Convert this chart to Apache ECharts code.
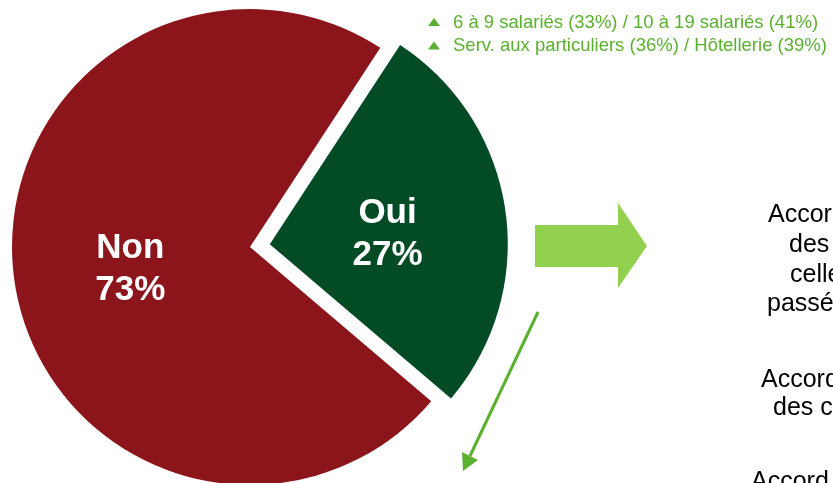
<!DOCTYPE html>
<html>
<head>
<meta charset="utf-8">
<script src="https://cdn.jsdelivr.net/npm/echarts@6/dist/echarts.min.js"></script>
<style>
  html, body { margin: 0; padding: 0; background: #fff; }
  #chart { width: 833px; height: 483px; }
</style>
</head>
<body>
<div id="chart"></div>
<script>
// pie data (Oui first so it starts at the upper right edge)
const categories = ["Oui", "Non"];
const values = [27, 73];
const sliceColors = ["#034b24", "#8c141b"];

// breakdown notes next to the "Oui" slice
const breakdownLines = [
    "6 à 9 salariés (33%) / 10 à 19 salariés (41%)",
    "Serv. aux particuliers (36%) / Hôtellerie (39%)"
];

// side text, partly outside the frame
const sideLines = [
    "Accord signé avec",
    "des délégués ou",
    "celle des salariés",
    "passé par référendum",
    "Accord signé avec",
    "des comités sociaux",
    "Accord unilatéral"
];

const font = "'Liberation Sans', Arial, sans-serif";
const noteGreen = "#5bb030";

const chart = echarts.init(document.getElementById("chart"));

// left x and baseline of each side line
const sidePos = [[768, 224], [789, 254], [790, 284], [767, 313], [761, 389], [773, 417], [751, 491]];

const graphics = [];

breakdownLines.forEach((line, i) => {
    const cy = 22 + i * 23.4;
    graphics.push({
        type: "polygon",
        shape: { points: [[428, cy + 4], [434, cy - 4], [440, cy + 4]] },
        style: { fill: noteGreen }
    });
    graphics.push({
        type: "text",
        x: 453, y: cy + 1,
        style: { text: line, fill: noteGreen, font: "18.5px " + font, textVerticalAlign: "middle" }
    });
});

sideLines.forEach((line, i) => {
    graphics.push({
        type: "text",
        x: sidePos[i][0], y: sidePos[i][1] - 8.5,
        style: { text: line, fill: "#000", font: "25px " + font, textVerticalAlign: "middle" }
    });
});

// block arrow
graphics.push({
    type: "polygon",
    shape: { points: [[535, 225], [618, 225], [618, 203], [647, 246], [618, 288], [618, 267], [535, 267]] },
    style: { fill: "#92d050" }
});

// thin arrow
graphics.push({
    type: "line",
    shape: { x1: 538, y1: 312, x2: 470, y2: 456 },
    style: { stroke: noteGreen, lineWidth: 3 }
});
graphics.push({
    type: "polygon",
    shape: { points: [[462, 452], [478, 460], [463, 471]] },
    style: { fill: noteGreen }
});

const labelShift = { Oui: [-3, 8], Non: [1, 5] };

chart.setOption({
    animation: false,
    graphic: graphics,
    series: [{
        type: "pie",
        center: [250, 247],
        radius: 238,
        startAngle: 56.8,
        clockwise: true,
        selectedMode: "single",
        selectedOffset: 20,
        emphasis: { disabled: true },
        label: {
            show: true,
            position: "inside",
            formatter: "{b}\n{c}%",
            color: "#fff",
            fontFamily: font,
            fontWeight: "bold",
            fontSize: 35,
            lineHeight: 42
        },
        labelLine: { show: false },
        data: categories.map((name, i) => ({
            name,
            value: values[i],
            selected: name === "Oui",
            itemStyle: { color: sliceColors[i] },
            label: { offset: labelShift[name] },
            select: { label: { offset: labelShift[name] } }
        }))
    }]
});
</script>
</body>
</html>
